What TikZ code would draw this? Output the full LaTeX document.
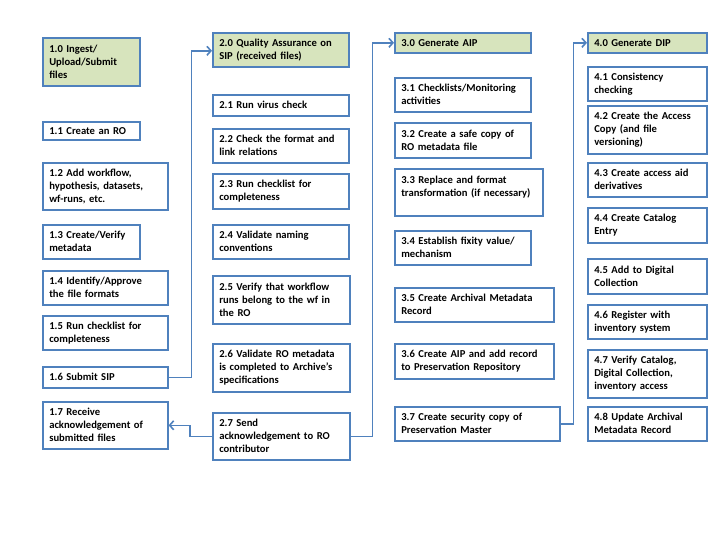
\documentclass[tikz,border=0pt]{standalone}
\usepackage{fontspec}
\setmainfont{Carlito}
\usetikzlibrary{arrows.meta}
\definecolor{boxblue}{HTML}{4F81BD}
\definecolor{hdrgreen}{HTML}{D7E4BD}
\hyphenpenalty=10000\relax
\exhyphenpenalty=10000\relax
\tikzset{
  box/.style={draw=boxblue, line width=1.6pt, fill=white, rectangle, anchor=north west,
    inner xsep=6.5pt, inner ysep=2pt, align=left, text=black,
    font=\bfseries\fontsize{10.6}{13}\selectfont},
  hdr/.style={box, fill=hdrgreen},
  arr/.style={draw=boxblue, line width=1.6pt, -{Straight Barb[length=4pt,width=9pt]}}
}
\newcommand\bx[7][box]{%
  \pgfmathsetmacro\tw{#5-13}%
  \node[#1, text width=\tw pt, minimum height=#6pt] (#2) at (#3,#4) {#7};}
\begin{document}
\begin{tikzpicture}[x=1pt,y=-1pt]
\useasboundingbox (0,0) rectangle (720,540);
% column 1
\bx[hdr]{b10}{42}{37}{97}{48}{1.0 Ingest/\\Upload/Submit\\files}
\bx{b11}{42}{121}{97}{18}{1.1 Create an RO}
\bx{b12}{42}{162}{125}{47}{1.2 Add workflow,\\hypothesis, datasets,\\wf-runs, etc.}
\bx{b13}{42}{224}{97}{34}{1.3 Create/Verify\\metadata}
\bx{b14}{42}{270}{125}{34}{1.4 Identify/Approve\\the file formats}
\bx{b15}{42}{315}{125}{34}{1.5 Run checklist for\\completeness}
\bx{b16}{42}{366}{125}{21}{1.6 Submit SIP}
\bx{b17}{42}{401}{125}{47}{1.7 Receive\\acknowledgement of\\submitted files}
% column 2
\bx[hdr]{b20}{212}{32}{136}{34}{2.0 Quality Assurance on\\SIP (received files)}
\bx{b21}{212}{94}{136}{21}{2.1 Run virus check}
\bx{b22}{212}{128}{136}{34}{2.2 Check the format and\\link relations}
\bx{b23}{212}{173}{136}{35}{2.3 Run checklist for\\completeness}
\bx{b24}{212}{224}{136}{34}{2.4 Validate naming\\conventions}
\bx{b25}{212}{275}{137}{48}{2.5 Verify that workflow\\runs belong to the wf in\\the RO}
\bx{b26}{212}{343}{137}{48}{2.6 Validate RO metadata\\is completed to Archive’s\\specifications}
\bx{b27}{212}{412}{137}{47}{2.7 Send\\acknowledgement to RO\\contributor}
% column 3
\bx[hdr]{b30}{394}{32}{136}{20}{3.0 Generate AIP}
\bx{b31}{394}{77}{136}{34}{3.1 Checklists/Monitoring\\activities}
\bx{b32}{394}{122}{136}{35}{3.2 Create a safe copy of\\RO metadata file}
\bx{b33}{394}{168}{148}{47}{3.3 Replace and format\\\mbox{transformation (if necessary)}\\~}
\bx{b34}{394}{230}{136}{34}{3.4 Establish fixity value/\\mechanism}
\bx{b35}{394}{287}{159}{34}{3.5 Create Archival Metadata\\Record}
\bx{b36}{394}{343}{159}{35}{3.6 Create AIP and add record\\to Preservation Repository}
\bx{b37}{394}{406}{165}{34}{3.7 Create security copy of\\Preservation Master}
% column 4
\bx[hdr]{b40}{587}{32}{119}{20}{4.0 Generate DIP}
\bx{b41}{587}{66}{119}{34}{4.1 Consistency\\checking}
\bx{b42}{587}{105}{119}{48}{4.2 Create the Access\\Copy (and file\\versioning)}
\bx{b43}{587}{162}{119}{34}{4.3 Create access aid\\derivatives}
\bx{b44}{587}{207}{119}{35}{4.4 Create Catalog\\Entry}
\bx{b45}{587}{258}{119}{35}{4.5 Add to Digital\\Collection}
\bx{b46}{587}{304}{119}{34}{4.6 Register with\\inventory system}
\bx{b47}{587}{349}{119}{48}{4.7 Verify Catalog,\\Digital Collection,\\inventory access}
\bx{b48}{587}{406}{119}{34}{4.8 Update Archival\\Metadata Record}
% connectors
\draw[arr] (b16.east) -- ([xshift=23pt]b16.east) |- ([yshift=-1pt]b20.west);
\draw[arr] (b27.west) -- ([xshift=-22pt]b27.west) |- (b17.east);
\draw[arr] (b27.east) -- ([xshift=22pt]b27.east) |- (b30.west);
\draw[arr] (b37.east) -- ([xshift=13pt]b37.east) |- (b40.west);
\end{tikzpicture}
\end{document}
